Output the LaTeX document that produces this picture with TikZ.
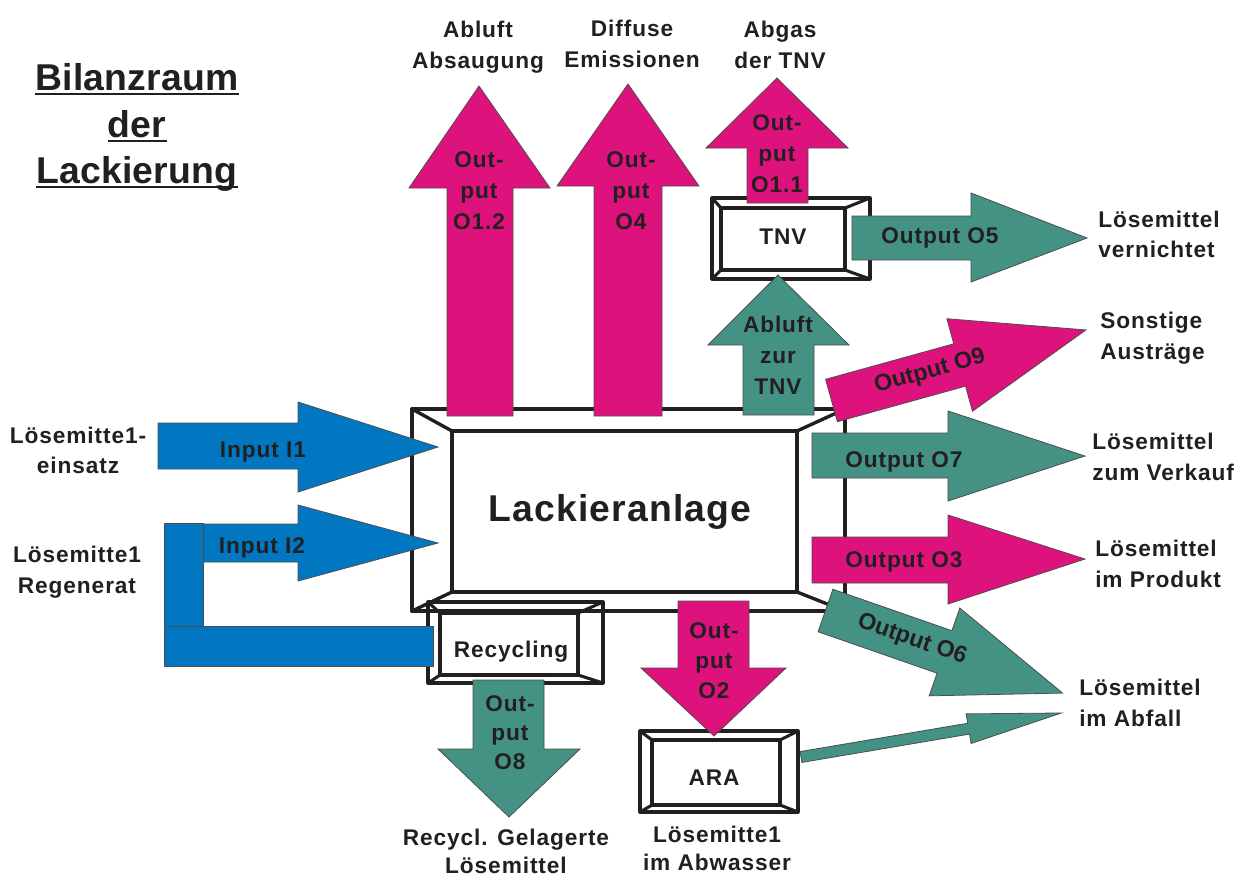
\documentclass[tikz,border=0pt]{standalone}
\usepackage{fontspec}
\setmainfont{Liberation Sans}
\newfontfamily\bodyf{Liberation Sans}[LetterSpace=4]
\newfontfamily\titlef{Liberation Sans}[LetterSpace=0.5]
\newfontfamily\mainf{Liberation Sans}[LetterSpace=3]
\newfontfamily\plainf{Liberation Sans}
\definecolor{pinkc}{RGB}{222,18,124}
\definecolor{tealc}{RGB}{68,146,131}
\definecolor{bluec}{RGB}{0,119,192}
\definecolor{inkc}{RGB}{35,31,32}
\newcommand\ctext[2][23.25pt]{\vtop{\baselineskip=#1\relax\halign{\hfil##\hfil\cr#2\crcr}}}
\newcommand\ltext[2][23.25pt]{\vtop{\baselineskip=#1\relax\halign{##\hfil\cr#2\crcr}}}
\newcommand\bevel[8]{%
  \draw[frame] (#1,#2) rectangle (#3,#4);
  \draw[frame] (#5,#6) rectangle (#7,#8);
  \draw[frame] (#1,#2)--(#5,#6) (#3,#2)--(#7,#6) (#3,#4)--(#7,#8) (#1,#4)--(#5,#8);}
\newcommand\rarrow[8]{%
  \begin{scope}[shift={(#2,#3)}, rotate=#4]
    \draw[#1] (0,{-#6/2}) -- ({#5-#8},{-#6/2}) -- ({#5-#8},{-#7/2}) -- (#5,0)
      -- ({#5-#8},{#7/2}) -- ({#5-#8},{#6/2}) -- (0,{#6/2}) -- cycle;
  \end{scope}}
\tikzset{
  frame/.style={line width=2.3pt, draw=inkc, line join=round},
  blk/.style={draw=inkc!80, line width=0.6pt, line join=miter},
  pinkar/.style={blk, fill=pinkc},
  tealar/.style={blk, fill=tealc},
  bluear/.style={blk, fill=bluec},
  txt/.style={font=\bodyf\bfseries\fontsize{17pt}{23pt}\selectfont, inner sep=0pt, anchor=base, text=inkc},
  rtxt/.style={font=\plainf\bfseries\fontsize{17.5pt}{23pt}\selectfont, inner sep=0pt, anchor=center, text=inkc},
  titlet/.style={font=\titlef\bfseries\fontsize{28pt}{32pt}\selectfont, inner sep=0pt, anchor=base, text=inkc},
  maint/.style={font=\mainf\bfseries\fontsize{28pt}{32pt}\selectfont, inner sep=0pt, anchor=base, text=inkc},
  uline/.style={draw=inkc, line width=1.4pt},
}
\begin{document}
\begin{tikzpicture}[x=0.75pt,y=-0.75pt]
\useasboundingbox[fill=white] (0,0) rectangle (1241,876);

% ---- boxes ----
\fill[white] (412,409) rectangle (845,611);
\bevel{412}{409}{845}{611}{452}{431}{797}{592}
\fill[white] (428,602) rectangle (603,683);
\bevel{428}{602}{603}{683}{440}{613}{578}{675}
\bevel{412}{409}{845}{611}{452}{431}{797}{592}
\fill[white] (712,198) rectangle (870,279);
\bevel{712}{198}{870}{279}{721}{208}{845}{270}
\fill[white] (640,731) rectangle (798,812);
\bevel{640}{731}{798}{812}{652}{740}{780}{805}
\coordinate (lack) at (624.5,511.5);
\coordinate (rec) at (509,644);
\coordinate (tnv) at (783,239);
\coordinate (ara) at (716,772.5);

% ---- arrows ----
% inputs
\draw[bluear] (158,423)--(298,423)--(298,402)--(438,447)--(298,492)--(298,469)--(158,469)--cycle;
\draw[bluear] (203,524)--(298,524)--(298,505)--(438,543)--(298,581)--(298,562)--(203,562)--cycle;
\draw[bluear] (164,523) rectangle (203,626);
\draw[bluear] (164,626) rectangle (433,666);
% up arrows
\draw[pinkar] (447,416)--(447,188)--(409,188)--(479,86)--(550,188)--(513,188)--(513,416)--cycle;
\draw[pinkar] (594,416)--(594,186)--(557,186)--(628,84)--(699,186)--(662,186)--(662,416)--cycle;
\draw[pinkar] (747,203)--(747,148)--(706,148)--(777,78)--(848,148)--(808,148)--(808,203)--cycle;
\draw[tealar] (743,415)--(743,345)--(708,345)--(778,275)--(849,345)--(814,345)--(814,415)--cycle;
% right arrows
\draw[tealar] (852,216)--(971,216)--(971,193)--(1087,238)--(971,282)--(971,260)--(852,260)--cycle;
\draw[tealar] (812,433)--(948,433)--(948,411)--(1085,456)--(948,501)--(948,478)--(812,478)--cycle;
\draw[pinkar] (812,537)--(948,537)--(948,515)--(1085,559)--(948,604)--(948,583)--(812,583)--cycle;
\rarrow{pinkar}{831.5}{400.5}{15.5}{264}{44}{96}{131}
\rarrow{tealar}{825.5}{610.5}{-19.2}{251}{45}{93}{125}
\rarrow{tealar}{801}{757}{9.6}{264}{11}{30}{94}
% down arrows
\draw[pinkar] (678,601)--(678,668)--(641,668)--(714,736)--(786,668)--(749,668)--(749,601)--cycle;
\draw[tealar] (473,680)--(473,749)--(438,749)--(509,817)--(580,749)--(544,749)--(544,680)--cycle;

% ---- title ----
\node[titlet] (ta) at (137,90) {Bilanzraum};
\node[titlet] (tb) at (137,137) {der};
\node[titlet] (tc) at (137,183) {Lackierung};
\draw[uline] ([yshift=-3pt]ta.base west) -- ([yshift=-3pt]ta.base east);
\draw[uline] ([yshift=-3pt]tb.base west) -- ([yshift=-3pt]tb.base east);
\draw[uline] ([yshift=-3pt]tc.base west) -- ([yshift=-3pt]tc.base east);

% ---- box texts ----
\node[maint] (lacktext) at (620,521) {Lackieranlage};
\node[txt] (tnvtext) at (783,244) {TNV};
\node[txt] (rectext) at (511,657) {Recycling};
\node[txt] (aratext) at (714,785) {ARA};

% ---- arrow texts ----
\node[txt] (o12) at (479,167) {\ctext{Out-\cr put\cr O1.2}};
\node[txt] (o4) at (631,167) {\ctext{Out-\cr put\cr O4}};
\node[txt] (o11) at (777,130) {\ctext{Out-\cr put\cr O1.1}};
\node[txt] (abz) at (778,332) {\ctext{Abluft\cr zur\cr TNV}};
\node[txt] (o5) at (940,243) {Output O5};
\node[txt] (o7) at (904,467) {Output O7};
\node[txt] (o3) at (904,567) {Output O3};
\node[rtxt, rotate=15.5] (o9) at (930,372) {Output O9};
\node[rtxt, rotate=-19.2] (o6) at (912,640) {Output O6};
\node[txt] (o2) at (714,638) {\ctext[22.5pt]{Out-\cr put\cr O2}};
\node[txt] (o8) at (510,711) {\ctext[22pt]{Out-\cr put\cr O8}};
\node[txt] (i1) at (263,457) {Input I1};
\node[txt] (i2) at (262,553) {Input I2};

% ---- outer labels ----
\node[txt] (l1) at (478,37) {\ctext{Abluft\cr Absaugung}};
\node[txt] (l2) at (632,36) {\ctext{Diffuse\cr Emissionen}};
\node[txt] (l3) at (780,37) {\ctext{Abgas\cr der TNV}};
\node[txt, anchor=base west] (l4) at (1098,227) {\ltext[22.5pt]{Lösemittel\cr vernichtet}};
\node[txt, anchor=base west] (l5) at (1100,328) {\ltext{Sonstige\cr Austräge}};
\node[txt, anchor=base west] (l6) at (1092,449) {\ltext{Lösemittel\cr zum Verkauf}};
\node[txt, anchor=base west] (l7) at (1095,556) {\ltext{Lösemittel\cr im Produkt}};
\node[txt, anchor=base west] (l8) at (1079,695) {\ltext{Lösemittel\cr im Abfall}};
\node[txt] (l9) at (78,443) {\ctext[22.5pt]{Lösemitte1-\cr einsatz}};
\node[txt] (l10) at (77,562) {\ctext{Lösemitte1\cr Regenerat}};
\node[txt] (l11) at (506,845) {\ctext[21pt]{Recycl. Gelagerte\cr Lösemittel}};
\node[txt] (l12) at (717,842) {\ctext[21pt]{Lösemitte1\cr im Abwasser}};
\end{tikzpicture}
\end{document}
